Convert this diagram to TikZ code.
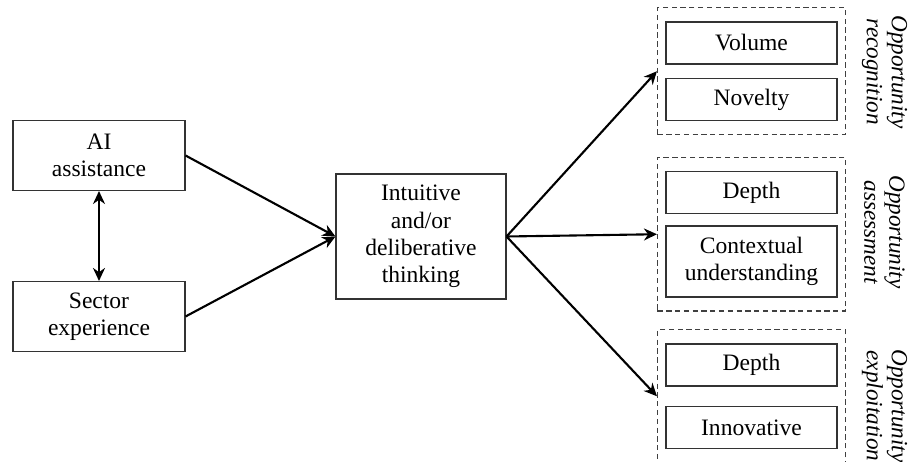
\documentclass[tikz,border=0pt]{standalone}
\usepackage{fontspec}
\setmainfont{Liberation Serif}
\usepackage{tikz}
\usetikzlibrary{positioning,fit,arrows.meta}

\tikzset{
    box/.style={draw=black!80, line width=0.6pt, align=center, inner sep=0pt,
        font=\fontsize{13.4}{15.5}\selectfont},
    arr/.style={-{Stealth[length=2.6mm,width=2.4mm]}, line width=1.2pt},
    dblarr/.style={{Stealth[length=2.6mm,width=2.4mm]}-{Stealth[length=2.6mm,width=2.4mm]}, line width=1.2pt},
    group/.style={draw=black!75, line width=0.6pt, dash pattern=on 3pt off 2pt,
        inner xsep=0.16cm, inner ysep=0.27cm},
    phase/.style={rotate=-90, align=center, inner sep=0pt,
        font=\fontsize{13.2}{14.2}\selectfont\itshape}
}

\begin{document}
\begin{tikzpicture}
    \useasboundingbox (0,0) rectangle (18.18,9.24);

    % Inputs
    \node[box, minimum width=3.44cm, minimum height=1.4cm] (ai) at (1.98,6.13) {AI\\assistance};
    \node[box, minimum width=3.44cm, minimum height=1.4cm] (sector) at (1.98,2.91) {Sector\\experience};

    % Thinking
    \node[box, minimum width=3.4cm, minimum height=2.5cm] (think) at (8.42,4.51) {Intuitive\\and/or\\deliberative\\thinking};

    % Outcomes
    \node[box, minimum width=3.42cm, minimum height=0.84cm] (vol) at (15.03,8.38) {Volume};
    \node[box, minimum width=3.42cm, minimum height=0.84cm] (nov) at (15.03,7.25) {Novelty};
    \node[box, minimum width=3.42cm, minimum height=0.84cm] (dep) at (15.03,5.39) {Depth};
    \node[box, minimum width=3.42cm, minimum height=1.42cm] (ctx) at (15.03,4.01) {Contextual\\understanding};
    \node[box, minimum width=3.42cm, minimum height=0.84cm] (depx) at (15.03,1.94) {Depth};
    \node[box, minimum width=3.42cm, minimum height=0.84cm] (inno) at (15.03,0.69) {Innovative};

    % Dashed groups
    \node[group, fit=(vol)(nov)] (rec) {};
    \node[group, fit=(dep)(ctx)] (ass) {};
    \node[group, fit=(depx)(inno)] (exp) {};

    \node[phase] (recl) at (17.69,7.80) {Opportunity\\recognition};
    \node[phase] (assl) at (17.69,4.60) {Opportunity\\assessment};
    \node[phase] (expl) at (17.69,1.12) {Opportunity\\exploitation};

    % Arrows
    \draw[dblarr] (ai.south) -- (sector.north);
    \draw[arr] (ai.east) -- (think.west);
    \draw[arr] (sector.east) -- (think.west);
    \foreach \g in {rec,ass,exp}
        \draw[arr] (think.east) -- (\g.west);
\end{tikzpicture}
\end{document}
